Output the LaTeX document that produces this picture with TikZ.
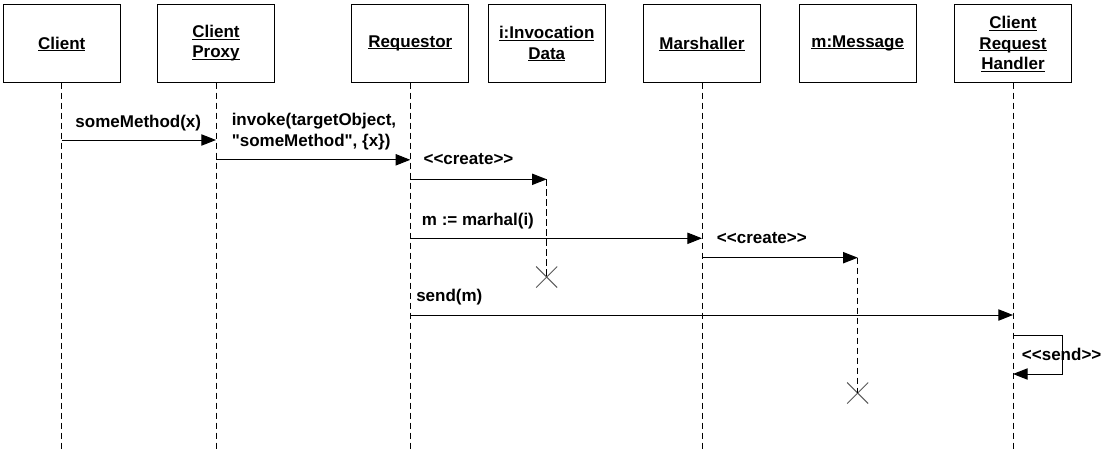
\documentclass[tikz,border=0pt]{standalone}
\usepackage{fontspec}
\setmainfont{Liberation Sans}[Ligatures=TeXOff]
\usetikzlibrary{arrows.meta,shapes.misc}
\newcommand{\ulx}[1]{{\setbox0=\hbox{#1}\rlap{\smash{\rule[-1.7pt]{\wd0}{0.75pt}}}\box0}}
\newcommand{\stereo}[1]{<\kern0pt<#1>\kern0pt>}
\begin{document}
\begin{tikzpicture}[x=0.75pt,y=-0.75pt,
  every node/.style={font=\fontsize{12.75}{15.2}\selectfont\bfseries, inner sep=0pt},
  obj/.style={draw, line width=0.75pt, minimum width=87.5pt, minimum height=58.5pt, align=center, fill=white},
  life/.style={line width=0.75pt, dash pattern=on 5pt off 2.5pt},
  msg/.style={line width=0.75pt, -{Triangle[length=11pt,width=8.5pt]}},
  lbl/.style={anchor=west},
  kill/.style={draw=black!65, line width=0.75pt, cross out, minimum size=15pt}
]
\useasboundingbox (0,0) rectangle (1105,457);
% objects
\node[obj] (client) at (61.7,43) {\ulx{Client}};
\node[obj] (proxy) at (216,43) {\ulx{Client}\\\ulx{Proxy}};
\node[obj] (req) at (410.3,43) {\ulx{Requestor}};
\node[obj] (inv) at (546.7,43) {\ulx{i:Invocation}\\\ulx{Data}};
\node[obj] (mar) at (702,43) {\ulx{Marshaller}};
\node[obj] (msg) at (857.7,43) {\ulx{m:Message}};
\node[obj] (crh) at (1013,43) {\ulx{Client}\\\ulx{Request}\\\ulx{Handler}};
% lifeline ends
\coordinate (clientEnd) at (61.7,452);
\coordinate (proxyEnd) at (216,452);
\coordinate (reqEnd) at (410.3,452);
\coordinate (marEnd) at (702,452);
\coordinate (crhEnd) at (1013,452);
\draw[life] (client.south) -- (clientEnd);
\draw[life] (proxy.south) -- (proxyEnd);
\draw[life] (req.south) -- (reqEnd);
\draw[life] (mar.south) -- (marEnd);
\draw[life] (crh.south) -- (crhEnd);
% destruction marks
\node[kill] (invX) at (546.7,277) {};
\node[kill] (msgX) at (857.7,393) {};
\draw[life] (inv |- 0,179.3) -- (invX.center);
\draw[life] (msg |- 0,257.7) -- (msgX.center);
% messages
\draw[msg] (client |- 0,140) -- (proxy |- 0,140);
\node (l1) at (138.3,123) {someMethod(x)};
\draw[msg] (proxy |- 0,159.8) -- (req |- 0,159.8);
\node[lbl, align=left] (l2) at (231.5,131.5) {invoke(targetObject,\\"someMethod", \{x\})};
\draw[msg] (req |- 0,179.3) -- (inv |- 0,179.3);
\node[lbl] (l3) at (423.3,159.3) {\stereo{create}};
\draw[msg] (req |- 0,238.3) -- (mar |- 0,238.3);
\node[lbl] (l4) at (421.7,221) {m := marhal(i)};
\draw[msg] (mar |- 0,257.7) -- (msg |- 0,257.7);
\node[lbl] (l5) at (716.7,238) {\stereo{create}};
\draw[msg] (req |- 0,315) -- (crh |- 0,315);
\node[lbl] (l6) at (416,296.7) {send(m)};
\draw[msg] (crh |- 0,335) -- (1062.3,335) -- (1062.3,374) -- (crh |- 0,374);
\node[lbl] (l7) at (1021.7,354) {\stereo{send}};
\end{tikzpicture}
\end{document}
